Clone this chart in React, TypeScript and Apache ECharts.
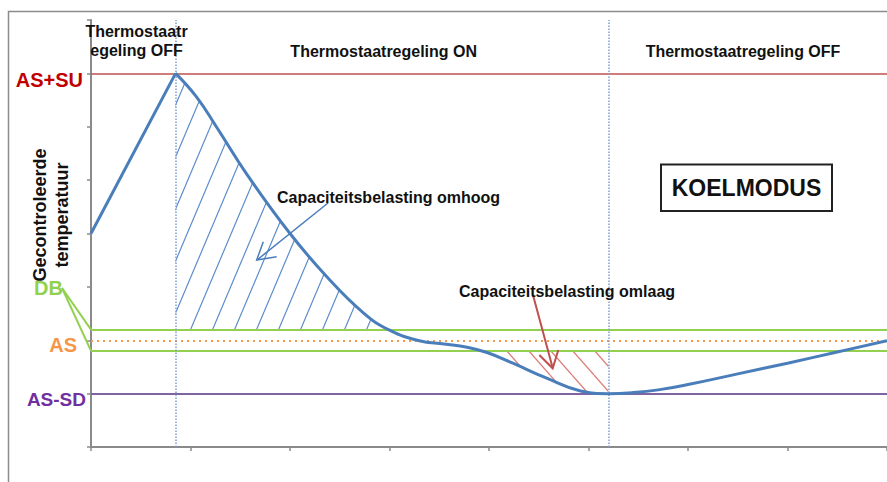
import React, { useEffect, useRef } from "react";
import * as echarts from "echarts";

// ---- data (x: time units, y: temperature units) ----
const curveRise: [number, number][] = [
  [0, 4.0],
  [0.85, 7.0],
];
const curveFall: [number, number][] = [
  [0.85, 7.0],
  [1.06, 6.56],
  [1.26, 6.0],
  [1.57, 5.1],
  [2.0, 4.0],
  [2.37, 3.19],
  [2.74, 2.51],
  [3.0, 2.19],
  [3.3, 1.99],
  [3.55, 1.93],
  [3.78, 1.87],
  [3.98, 1.77],
  [4.24, 1.57],
  [4.58, 1.29],
  [4.92, 1.05],
  [5.2, 1.0],
  [5.45, 1.02],
  [5.7, 1.07],
  [6.0, 1.17],
  [6.5, 1.37],
  [7.0, 1.57],
  [7.5, 1.78],
  [8.0, 1.99],
];
const levelASSU = 7;
const levelDBHigh = 2.2;
const levelAS = 2;
const levelDBLow = 1.8;
const levelASSD = 1;
const phaseBoundaries = [0.85, 5.2];
const hatchUpRange: [number, number] = [0.85, 3.0];
const hatchDownRange: [number, number] = [3.98, 5.2];
const phaseLabels = ["Thermostaatr\negeling OFF", "Thermostaatregeling ON", "Thermostaatregeling OFF"];
const levelLabels = ["AS+SU", "DB", "AS", "AS-SD"];
const yAxisTitle = "Gecontroleerde\ntemperatuur";
const modeLabel = "KOELMODUS";
const loadUpLabel = "Capaciteitsbelasting omhoog";
const loadDownLabel = "Capaciteitsbelasting omlaag";

const FONT = "'Liberation Sans', Arial, Helvetica, sans-serif";

function makeHatch(color: string, w: number, h: number, forward: boolean, lw: number) {
  const c = document.createElement("canvas");
  c.width = w;
  c.height = h;
  const ctx = c.getContext("2d")!;
  ctx.strokeStyle = color;
  ctx.lineWidth = lw;
  for (const off of [-w, 0, w]) {
    ctx.beginPath();
    if (forward) {
      ctx.moveTo(off, h);
      ctx.lineTo(off + w, 0);
    } else {
      ctx.moveTo(off, 0);
      ctx.lineTo(off + w, h);
    }
    ctx.stroke();
  }
  return c;
}

export default function App() {
  const ref = useRef<HTMLDivElement>(null);
  useEffect(() => {
    if (!ref.current) return;
    const chart = echarts.init(ref.current, null, { renderer: "svg" });
    const blueHatch = makeHatch("#5b8bcc", 22, 52, true, 1.2);
    const redHatch = makeHatch("#dc7d78", 22, 25, false, 1.3);

    const hatchUp = curveFall.filter((p) => p[0] >= hatchUpRange[0] && p[0] <= hatchUpRange[1]);
    const hatchDown = curveFall.filter((p) => p[0] >= hatchDownRange[0] && p[0] <= hatchDownRange[1]);

    const hLine = (y: number, color: string, width: number, type: any = "solid") => ({
      yAxis: y,
      lineStyle: { color, width, type },
    });

    const SMOOTH = 0.45;

    const option: any = {
      animation: false,
      grid: { left: 91, right: 0, top: 20, bottom: 35 },
      xAxis: {
        type: "value",
        min: 0,
        max: 8,
        interval: 1,
        axisLine: { show: true, lineStyle: { color: "#8a8a8a", width: 2 } },
        axisTick: { show: true, length: 4, lineStyle: { color: "#8a8a8a", width: 1.5 } },
        axisLabel: { show: false },
        splitLine: { show: false },
      },
      yAxis: {
        type: "value",
        min: 0,
        max: 8,
        interval: 1,
        axisLine: { show: true, lineStyle: { color: "#8a8a8a", width: 2 } },
        axisTick: { show: true, length: 4, lineStyle: { color: "#8a8a8a", width: 1.5 } },
        axisLabel: { show: false },
        splitLine: { show: false },
      },
      series: [
        {
          name: "hatchUp",
          type: "line",
          data: hatchUp,
          smooth: SMOOTH,
          symbol: "none",
          lineStyle: { width: 0, opacity: 0 },
          areaStyle: { origin: levelDBHigh, color: { image: blueHatch, repeat: "repeat" }, opacity: 1 },
          z: 1,
        },
        {
          name: "hatchDown",
          type: "line",
          data: hatchDown,
          smooth: SMOOTH,
          symbol: "none",
          lineStyle: { width: 0, opacity: 0 },
          areaStyle: { origin: levelDBLow, color: { image: redHatch, repeat: "repeat" }, opacity: 1 },
          z: 1,
        },
        {
          name: "levels",
          type: "line",
          data: [],
          z: 2,
          markLine: {
            silent: true,
            symbol: "none",
            label: { show: false },
            data: [
              hLine(levelASSU, "#c0504d", 1.5),
              hLine(levelDBHigh, "#92d050", 1.8),
              hLine(levelAS, "#f79646", 2, [2, 4]),
              hLine(levelDBLow, "#92d050", 1.8),
              hLine(levelASSD, "#8064a2", 2),
              ...phaseBoundaries.map((x) => ({
                xAxis: x,
                lineStyle: { color: "#7f9fd0", width: 1.5, type: [1.5, 1.5] },
              })),
            ],
          },
        },
        {
          name: "rise",
          type: "line",
          data: curveRise,
          symbol: "none",
          lineStyle: { color: "#4a7ebb", width: 3 },
          z: 5,
        },
        {
          name: "fall",
          type: "line",
          data: curveFall,
          smooth: SMOOTH,
          symbol: "none",
          lineStyle: { color: "#4a7ebb", width: 3 },
          z: 5,
        },
      ],
    };
    chart.setOption(option);

    const px = (x: number, y: number) => chart.convertToPixel({ gridIndex: 0 }, [x, y]) as number[];
    const axisX = px(0, 0)[0];
    const dbHi = px(0, levelDBHigh);
    const dbLo = px(0, levelDBLow);
    const boldText = (text: string, x: number, y: number, size: number, fill: string, align = "center", extra: any = {}) => ({
      type: "text",
      x,
      y,
      z: 100,
      style: { text, fill, font: `bold ${size}px ${FONT}`, align, verticalAlign: "middle", ...extra },
    });

    chart.setOption({
      graphic: [
        {
          type: "rect",
          shape: { x: 8.5, y: 11.5, width: 900, height: 500 },
          style: { fill: "none", stroke: "#8c8c8c", lineWidth: 1.5 },
          z: 0,
          silent: true,
        },
        boldText(phaseLabels[0], 136.5, 41, 16, "#111", "center", { lineHeight: 18.5 }),
        boldText(phaseLabels[1], 383.7, 51, 16, "#111"),
        boldText(phaseLabels[2], 743, 51, 16, "#111"),
        boldText(levelLabels[0], 83, 79.5, 20, "#c00000", "right"),
        boldText(levelLabels[1], 63, 288, 20, "#92d050", "right"),
        boldText(levelLabels[2], 77, 345, 20, "#f79646", "right"),
        boldText(levelLabels[3], 86, 399, 19, "#7030a0", "right"),
        {
          type: "text",
          x: 51,
          y: 215,
          rotation: Math.PI / 2,
          z: 100,
          style: {
            text: yAxisTitle,
            fill: "#111",
            font: `bold 18px ${FONT}`,
            align: "center",
            verticalAlign: "middle",
            lineHeight: 22.5,
          },
        },
        {
          type: "line",
          shape: { x1: 62, y1: 288, x2: axisX, y2: dbHi[1] },
          style: { stroke: "#92d050", lineWidth: 2 },
          z: 50,
        },
        {
          type: "line",
          shape: { x1: 62, y1: 288, x2: axisX, y2: dbLo[1] },
          style: { stroke: "#92d050", lineWidth: 2 },
          z: 50,
        },
        boldText(loadUpLabel, 277, 197, 16, "#111", "left"),
        boldText(loadDownLabel, 459, 291, 16, "#111", "left"),
        {
          type: "line",
          shape: { x1: 328, y1: 203, x2: 257, y2: 260 },
          style: { stroke: "#4a7ebb", lineWidth: 1.5 },
          z: 60,
        },
        {
          type: "polyline",
          shape: { points: [[263.3, 241.7], [256.7, 260], [276.7, 256.7]] },
          style: { stroke: "#4a7ebb", lineWidth: 1.5, fill: "none" },
          z: 60,
        },
        {
          type: "line",
          shape: { x1: 533, y1: 295, x2: 552.7, y2: 368 },
          style: { stroke: "#c0504d", lineWidth: 2 },
          z: 60,
        },
        {
          type: "polyline",
          shape: { points: [[539.3, 355], [552.7, 368.3], [558.3, 350]] },
          style: { stroke: "#c0504d", lineWidth: 2, fill: "none" },
          z: 60,
        },
        {
          type: "rect",
          shape: { x: 661, y: 164.5, width: 171, height: 46.5 },
          style: { fill: "#fff", stroke: "#222", lineWidth: 2 },
          z: 70,
        },
        boldText(modeLabel, 746.5, 188, 23, "#111", "center"),
      ],
    });

    return () => chart.dispose();
  }, []);
  return (
    <div
      ref={ref}
      style={{ position: "fixed", left: 0, top: 0, width: 887, height: 482, background: "#fff" }}
    />
  );
}
